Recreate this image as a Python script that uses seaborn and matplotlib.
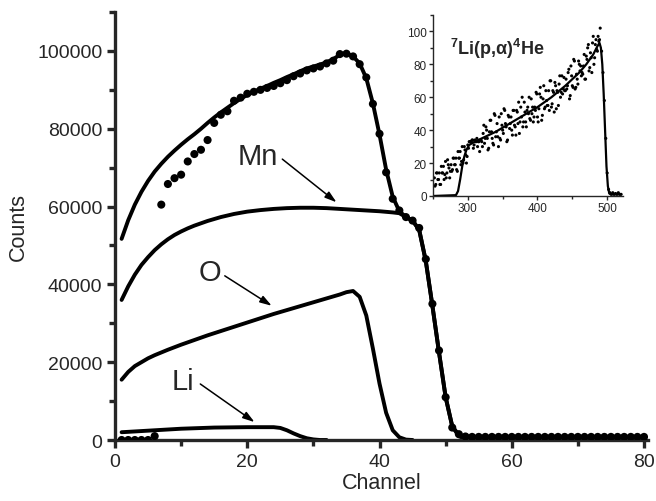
import numpy as np
import pandas as pd
import matplotlib
matplotlib.use("Agg")
import matplotlib.pyplot as plt
from matplotlib.ticker import MultipleLocator
import seaborn as sns

# ---------------- main panel data ----------------
channels = list(range(1, 81))
counts_exp = [0, 0, 0, 0, 0, 1000, 60500, 65800, 67300, 68200,
              71600, 73500, 74600, 77100, 81500, 83600, 84500, 87200, 88000, 89000,
              89500, 90000, 90500, 91000, 91700, 92500, 93500, 94200, 95000, 95500,
              96000, 96800, 97500, 99200, 99300, 98600, 96600, 93200, 86400, 78700,
              68800, 62000, 59000, 57300, 56400, 54500, 46500, 35000, 23000, 11000,
              3200, 1500, 900] + [800] * 27

total_fit = [51700, 56500, 60500, 63800, 66600, 69000, 71000, 72800, 74400, 75900,
             77300, 78600, 80000, 81500, 82900, 84200, 85400, 86600, 87700, 88700,
             89500, 90300, 91000, 91800, 92500, 93300, 94000, 94800, 95500, 96000,
             96500, 97100, 97900, 99000, 99400, 98600, 96800, 93000, 86500, 78500,
             69500, 62500, 58800, 57300, 56400, 54000, 46000, 34500, 22500, 11000,
             3500, 1300, 800] + [700] * 27

mn_x = [1, 2, 3, 4, 5, 6, 7, 8, 9, 10, 11, 12, 13, 14, 15, 16, 17, 18, 19, 20,
        22, 24, 26, 28, 30, 32, 34, 36, 38, 40, 42, 43, 44, 45, 46, 47, 48, 49, 50,
        51, 52, 53, 54]
mn_y = [36000, 39500, 42500, 45000, 47000, 48800, 50300, 51600, 52700, 53600,
        54400, 55100, 55700, 56300, 56800, 57300, 57700, 58100, 58400, 58700,
        59100, 59400, 59600, 59700, 59700, 59600, 59400, 59200, 59000, 58800,
        58500, 58300, 57300, 56400, 54000, 46000, 34500, 22500, 11000,
        3500, 1000, 200, 0]

o_x = [1, 2, 3, 4, 5, 6, 8, 10, 12, 14, 16, 18, 20, 22, 24, 26, 28, 30, 32, 34,
       35, 36, 37, 38, 39, 40, 41, 42, 43, 44, 45]
o_y = [15500, 17500, 19000, 20000, 21000, 21800, 23200, 24500, 25700, 26900,
       28000, 29100, 30200, 31300, 32400, 33400, 34400, 35400, 36400, 37400,
       38000, 38300, 36800, 32000, 23500, 14500, 7000, 2500, 700, 100, 0]

li_x = [1, 5, 10, 15, 20, 24, 25, 26, 27, 28, 29, 30, 31, 32]
li_y = [2000, 2400, 2900, 3200, 3300, 3300, 3100, 2500, 1700, 1000, 450, 150, 0, 0]

x_ticks = [0, 20, 40, 60, 80]
y_ticks = [0, 20000, 40000, 60000, 80000, 100000]

# ---------------- inset data ----------------
inset_x_a = list(range(252, 491, 2))
inset_y_a = [11, 7, 14, 10, 7, 18, 14, 10, 21, 14, 19, 11, 19, 16, 23, 19, 16, 27, 23, 19,
             30, 22, 28, 20,
             31, 33, 33, 34, 29, 34, 33, 30, 33, 34, 33,
             38, 32, 42, 35, 29, 46, 39, 32, 50, 36, 44, 30,
             35, 50, 40, 53, 44, 33, 49, 41, 48, 37, 52, 42,
             52, 44, 38, 54, 60, 45, 51, 42, 54, 60, 46, 50,
             45, 54, 63, 48, 53, 66, 46, 59, 53, 64, 55, 64,
             70, 54, 64, 51, 67, 64, 55, 73, 63, 62, 72, 64,
             65, 75, 59, 79, 67, 83, 65, 74, 68, 80, 79, 75,
             79, 71, 85, 90, 76, 87, 75, 97, 84, 95, 88, 94, 102]
inset_x_b = list(range(253, 490, 2))
inset_y_b = [6, 14, 10, 14, 7, 14, 18, 13, 11, 22, 17, 15, 15, 23, 19, 23, 15, 23, 27, 21,
             20, 30, 25, 24,
             29, 33, 33, 34, 31, 33, 35, 33, 27, 34,
             30, 43, 35, 40, 28, 39, 46, 35, 31, 49, 39, 36,
             48, 34, 43, 38, 52, 42, 34, 48, 44, 40, 52, 43,
             37, 51, 57, 45, 48, 42, 57, 45, 52, 50, 47, 59,
             54, 48, 52, 62, 45, 62, 60, 49, 67, 54, 58, 55,
             52, 70, 56, 63, 69, 53, 63, 68, 60, 73, 65, 64,
             71, 67, 77, 61, 73, 66, 82, 66, 71, 82, 76, 73,
             74, 86, 71, 83, 92, 78, 84, 93, 80, 92, 89, 97, 95]
inset_x_c = [492, 494, 496, 498, 500, 502, 504, 506, 508, 510, 512, 514, 516, 518, 520]
inset_y_c = [88, 75, 58, 35, 14, 4, 2, 1, 2, 1, 1.5, 1, 2, 1, 1]

inset_fit_x = [250, 283, 286, 289, 292, 295, 298, 302, 310, 320, 340, 360, 380, 400,
               420, 440, 460, 470, 480, 486, 489, 491, 493, 495, 497, 499, 501, 503,
               505, 520]
inset_fit_y = [0, 0.5, 3, 10, 18, 24, 28, 31, 33, 35, 39, 44, 49, 54,
               60, 67, 75, 80, 86, 91, 93, 90, 80, 62, 40, 18, 6, 1.5, 1, 1]

# ---------------- style ----------------
sns.set_style("ticks")
plt.rcParams['font.family'] = ['Liberation Sans', 'DejaVu Sans']
plt.rcParams['mathtext.fontset'] = 'custom'
plt.rcParams['mathtext.rm'] = 'Liberation Sans'
plt.rcParams['mathtext.bf'] = 'Liberation Sans:bold'
plt.rcParams['mathtext.it'] = 'Liberation Sans:italic'

fig = plt.figure(figsize=(6.56, 5.02), dpi=100)
ax = fig.add_axes([0.1753, 0.1215, 0.8125, 0.8525])

lw = 2.8
sns.lineplot(x=channels, y=total_fit, ax=ax, color='black', lw=lw, sort=False, estimator=None)
sns.lineplot(x=mn_x, y=mn_y, ax=ax, color='black', lw=lw, sort=False, estimator=None)
sns.lineplot(x=o_x, y=o_y, ax=ax, color='black', lw=lw, sort=False, estimator=None)
sns.lineplot(x=li_x, y=li_y, ax=ax, color='black', lw=lw, sort=False, estimator=None)
sns.scatterplot(x=channels, y=counts_exp, ax=ax, color='black', s=34, edgecolor='none', zorder=5)

ax.set_xlim(0, 80.6)
ax.set_ylim(0, 110000)
ax.set_xticks(x_ticks)
ax.set_yticks(y_ticks)
ax.xaxis.set_minor_locator(MultipleLocator(10))
ax.yaxis.set_minor_locator(MultipleLocator(10000))
ax.tick_params(which='major', direction='out', length=6, width=2.4, labelsize=14, pad=3)
ax.tick_params(which='minor', direction='out', length=4, width=2.4)
for s in ['left', 'bottom']:
    ax.spines[s].set_linewidth(2.4)
for s in ['top', 'right']:
    ax.spines[s].set_visible(False)
ax.set_xlabel('Channel', fontsize=15.5, labelpad=2)
ax.set_ylabel('Counts', fontsize=15.5, labelpad=6)

arrow = dict(arrowstyle='-|>,head_length=0.7,head_width=0.22', color='black', lw=1.1,
             shrinkA=0, shrinkB=0)
ax.text(21.6, 72900, 'Mn', fontsize=21, ha='center', va='center')
ax.annotate('', xy=(33.5, 61100), xytext=(25.3, 72200), arrowprops=arrow)
ax.text(14.3, 43200, 'O', fontsize=21, ha='center', va='center')
ax.annotate('', xy=(23.7, 34500), xytext=(16.6, 42200), arrowprops=arrow)
ax.text(10.2, 15200, 'Li', fontsize=21, ha='center', va='center')
ax.annotate('', xy=(21.1, 4600), xytext=(12.9, 14400), arrowprops=arrow)

# ---------------- inset ----------------
axi = fig.add_axes([0.660, 0.6076, 0.290, 0.3606])
axi.patch.set_alpha(0)
sns.scatterplot(x=inset_x_a, y=inset_y_a, ax=axi, color='black', s=5, edgecolor='none')
sns.scatterplot(x=inset_x_b, y=inset_y_b, ax=axi, color='black', s=5, edgecolor='none')
sns.scatterplot(x=inset_x_c, y=inset_y_c, ax=axi, color='black', s=5, edgecolor='none')
sns.lineplot(x=inset_fit_x, y=inset_fit_y, ax=axi, color='black', lw=1.6, sort=False, estimator=None)
axi.set_xlim(250, 523)
axi.set_ylim(0, 110)
axi.set_xticks([300, 400, 500])
axi.set_yticks([0, 20, 40, 60, 80, 100])
axi.xaxis.set_minor_locator(MultipleLocator(50))
axi.yaxis.set_minor_locator(MultipleLocator(10))
axi.tick_params(which='major', direction='out', length=3, width=1, labelsize=8.5, pad=1.5)
axi.tick_params(which='minor', direction='out', length=2, width=1)
for s in ['left', 'bottom']:
    axi.spines[s].set_linewidth(1)
for s in ['top', 'right']:
    axi.spines[s].set_visible(False)
axi.text(274, 90, r'$^{\mathbf{7}}$Li(p,α)$^{\mathbf{4}}$He', fontsize=13, fontweight='bold',
         ha='left', va='center')

fig.savefig('out.png', dpi=100)
